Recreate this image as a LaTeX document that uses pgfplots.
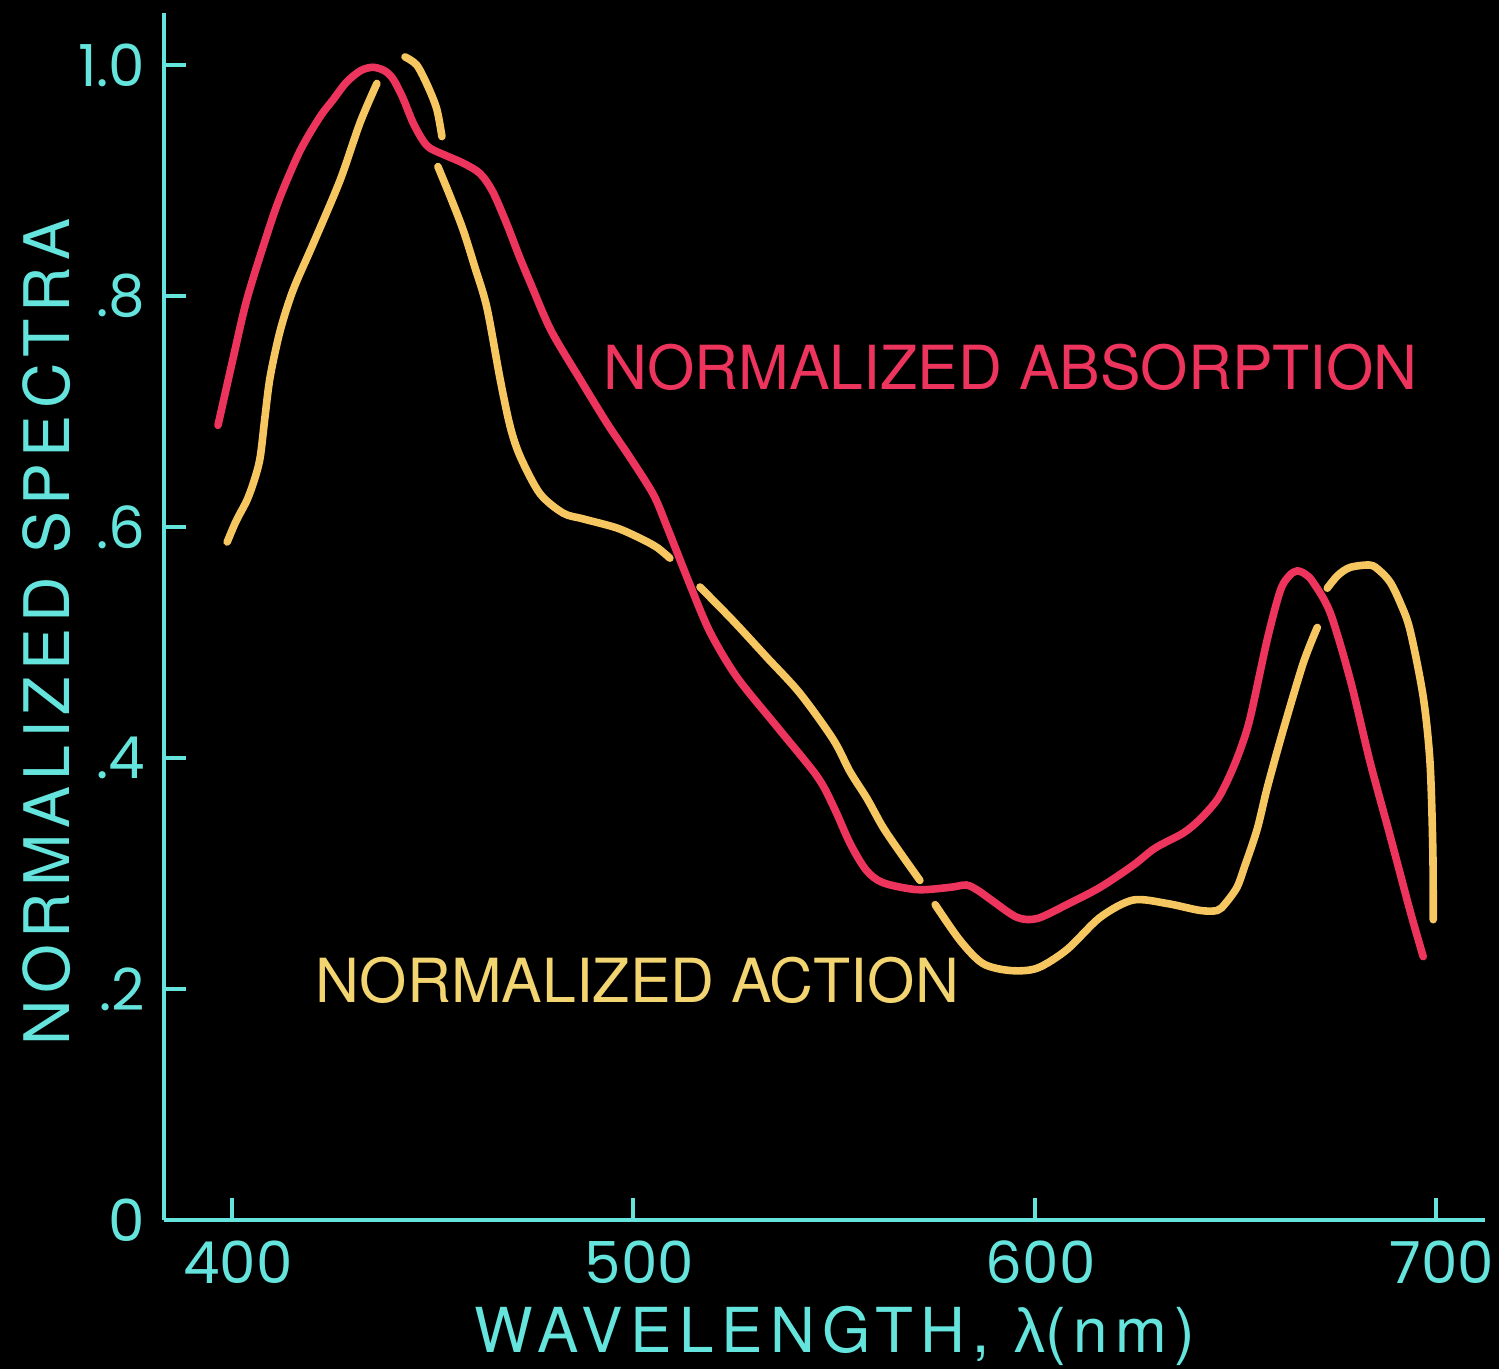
\documentclass[border=0pt]{standalone}
\usepackage{fontspec}
\setmainfont{TeX Gyre Heros}
\newfontfamily\tickfont{Poppins}
\newfontfamily\lamfont{Liberation Sans}
\usepackage{pgfplots}
\pgfplotsset{compat=1.18}
\definecolor{axcyan}{RGB}{100,228,220}
\definecolor{absred}{RGB}{236,52,92}
\definecolor{actyel}{RGB}{246,198,96}
\definecolor{acttext}{RGB}{242,212,112}
\begin{document}
\begin{tikzpicture}
\fill[black] (0,0) rectangle (374.75pt,342.25pt);
\begin{axis}[
  at={(41pt,37.25pt)}, anchor=south west,
  scale only axis, width=330.25pt, height=301.75pt,
  xmin=383.05, xmax=712.2, ymin=0, ymax=1.045,
  axis x line*=bottom, axis y line*=left,
  axis line style={axcyan, line width=1pt},
  tick align=inside, major tick length=5.5pt,
  tick style={axcyan, line width=1pt},
  xtick={400,500,600,700},
  ytick={0,0.2,0.4,0.6,0.8,1.0},
  yticklabels={0,.2,.4,.6,.8,1.0},
  xticklabels={400,500,600,700},
  ticklabel style={text=axcyan, font=\tickfont\fontsize{14.5pt}{16pt}\selectfont},
  yticklabel style={inner sep=0pt, xshift=-4.5pt},
  xticklabel style={inner sep=0pt, text depth=0pt, yshift=-5pt, xshift=1.5pt},
  xlabel={WAVELENGTH, {\lamfont λ}(nm)},
  ylabel={NORMALIZED SPECTRA},
  label style={text=axcyan},
  xlabel style={at={(axis description cs:0.508,-0.110)}, anchor=base, inner sep=0pt,
    font=\fontsize{15.5pt}{17pt}\selectfont\addfontfeatures{LetterSpace=12}},
  ylabel style={at={(axis description cs:-0.0886,0.487)}, anchor=center, inner sep=0pt, rotate=0,
    font=\fontsize{15.7pt}{18pt}\selectfont\addfontfeatures{LetterSpace=10}},
  clip=false,
]
% Normalized action (yellow), drawn in pieces broken where the red curve passes over it
\addplot[actyel, line width=1.9pt, smooth, line cap=round] coordinates {
(398.8,0.587) (401,0.605) (403.7,0.623) (405.5,0.640) (407,0.660) (408.2,0.695)
(409.5,0.730) (412,0.770) (415.2,0.805) (420.2,0.845) (426.9,0.900) (431.9,0.950) (436.1,0.984)};
\addplot[actyel, line width=1.9pt, smooth, line cap=round] coordinates {
(443.1,1.007) (446,1.000) (448.6,0.983) (451,0.962) (452.3,0.938)};
\addplot[actyel, line width=1.9pt, smooth, line cap=round] coordinates {
(451.3,0.912) (454.5,0.885) (457.6,0.857) (460.5,0.825) (463.5,0.790) (466.8,0.728)
(469.3,0.687) (471.8,0.661) (476.7,0.629) (482.5,0.612) (487.5,0.607) (496,0.599)
(502.4,0.589) (506,0.582) (509.1,0.573)};
\addplot[actyel, line width=1.9pt, smooth, line cap=round] coordinates {
(516.6,0.548) (524.8,0.519) (533.3,0.487) (541.5,0.456) (549.8,0.416) (554,0.388)
(558.2,0.365) (562.2,0.340) (566.5,0.318) (571.4,0.294)};
\addplot[actyel, line width=1.9pt, smooth, line cap=round] coordinates {
(575.2,0.273) (581.4,0.242) (587.1,0.222) (593.9,0.216) (600.6,0.218) (608,0.234)
(616.3,0.262) (624.5,0.277) (633,0.274) (641.2,0.268) (645.5,0.268) (647.5,0.274)
(650.4,0.288) (652.2,0.305) (655.4,0.338) (658,0.375) (661.9,0.424) (666.9,0.482) (670.4,0.513)};
\addplot[actyel, line width=1.9pt, smooth, line cap=round] coordinates {
(672.9,0.547) (675.5,0.558) (678.6,0.565) (683.6,0.567) (686,0.562) (688.6,0.552)
(691,0.535) (693.5,0.511) (696.8,0.453) (698.5,0.396) (699.2,0.320) (699.3,0.260)};
% Normalized absorption (red)
\addplot[absred, line width=1.9pt, smooth, line cap=round] coordinates {
(396.5,0.688) (400.2,0.745) (403.7,0.797) (408.7,0.853) (412,0.886) (417,0.926)
(421.9,0.955) (425.2,0.970) (428.5,0.985) (432,0.995) (435.1,0.998) (438,0.995)
(440.1,0.988) (442.5,0.972) (445.1,0.950) (447.5,0.935) (449.3,0.928) (453,0.922)
(457.6,0.915) (461.8,0.906) (465,0.890) (468.5,0.862) (471.5,0.835) (474.5,0.810)
(479.5,0.770) (486.7,0.728) (493.4,0.690) (499.2,0.660) (505,0.628) (508.4,0.600)
(514.1,0.550) (519.1,0.509) (525.8,0.470) (535.8,0.427) (545.8,0.384) (550,0.357)
(554,0.326) (558,0.303) (562.2,0.292) (570.7,0.286) (578.9,0.288) (583,0.290)
(586,0.285) (589.6,0.276) (595.6,0.262) (600.6,0.261) (608,0.273) (616.3,0.288)
(624.5,0.307) (630,0.322) (637,0.335) (641.2,0.347) (645.5,0.364) (648.5,0.384)
(651.2,0.407) (653.7,0.435) (657.9,0.502) (661.2,0.545) (663.5,0.558) (665.4,0.562)
(667.5,0.559) (669.4,0.552) (673.6,0.526) (678.6,0.468) (683.6,0.396) (688.6,0.332)
(693.5,0.268) (696.8,0.228)};
\node[anchor=base west, inner sep=0pt, text=absred, font=\fontsize{15.2pt}{18pt}\selectfont]
  at (axis cs:492.4,0.7186) {NORMALIZED ABSORPTION};
\node[anchor=base west, inner sep=0pt, text=acttext, font=\fontsize{15.2pt}{18pt}\selectfont]
  at (axis cs:420.7,0.188) {NORMALIZED ACTION};
\end{axis}
\pgfresetboundingbox
\useasboundingbox (0,0) rectangle (374.75pt,342.25pt);
\end{tikzpicture}
\end{document}
